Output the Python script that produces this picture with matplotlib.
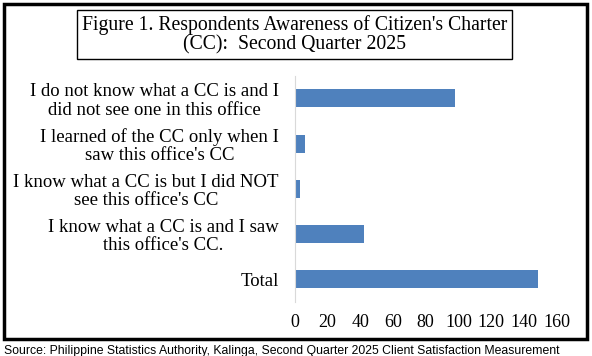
import matplotlib
matplotlib.use('Agg')
import matplotlib.pyplot as plt
from matplotlib.patches import Rectangle

# data (top to bottom as shown)
categories = [
    "I do not know what a CC is and I\ndid not see one in this office",
    "I learned of the CC only when I\nsaw this office's CC",
    "I know what a CC is but I did NOT\nsee this office's CC",
    "I know what a CC is and I saw\nthis office's CC.",
    "Total",
]
values = [98, 6, 3, 42, 149]
xticks = [0, 20, 40, 60, 80, 100, 120, 140, 160]

title = "Figure 1. Respondents Awareness of Citizen's Charter\n(CC):  Second Quarter 2025"
source = "Source: Philippine Statistics Authority, Kalinga, Second Quarter 2025 Client Satisfaction Measurement"

serif = ['Liberation Serif', 'DejaVu Serif']

fig = plt.figure(figsize=(5.92, 3.56), dpi=100)
ax = fig.add_axes([0.498, 0.152, 0.442, 0.635])

ypos = list(range(len(categories)))
ax.barh(ypos, values, height=0.4, color='#4F81BD')
ax.set_yticks(ypos)
ax.set_yticklabels(categories, family=serif, fontsize=13.5, linespacing=1.1,
                   multialignment='center')
ax.set_ylim(4.5, -0.5)
ax.set_xlim(0, 160)
ax.set_xticks(xticks)
ax.set_xticklabels([str(t) for t in xticks], family=serif, fontsize=13)
ax.tick_params(axis='both', length=0, colors='black')
ax.tick_params(axis='x', pad=9)
ax.tick_params(axis='y', pad=11.5)
for s in ['top', 'right', 'bottom']:
    ax.spines[s].set_visible(False)
ax.spines['left'].set_color('#D9D9D9')

# outer border
fig.patches.append(Rectangle((0.007, 0.048), 0.984, 0.941, transform=fig.transFigure,
                             fill=False, edgecolor='black', linewidth=2.5))

# title box
fig.text(0.497, 0.903, title, ha='center', va='center', family=serif, fontsize=14.2,
         linespacing=1.05,
         bbox=dict(boxstyle='square,pad=0.25', facecolor='white', edgecolor='black', linewidth=1))

fig.text(0.006, 0.015, source, ha='left', va='center', family=['Liberation Sans', 'DejaVu Sans'],
         fontsize=8.8)

fig.savefig('out.png', dpi=100)
